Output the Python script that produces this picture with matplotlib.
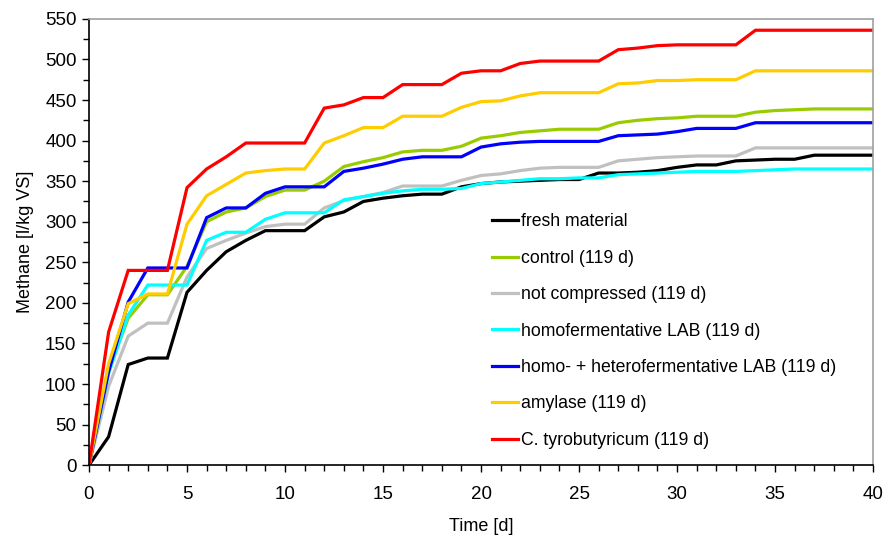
import matplotlib
matplotlib.use('Agg')
from matplotlib import pyplot as plt
from matplotlib.ticker import MultipleLocator
import numpy as np

plt.rcParams['font.family'] = ['Liberation Sans', 'DejaVu Sans']

days = np.arange(0, 41)

fresh = [0, 35, 124, 132, 132, 213, 240, 263, 277, 289, 289, 289, 306, 312, 325, 329,
         332, 334, 334, 343, 347, 349, 350, 351, 352, 352, 360, 360, 361, 363, 367, 370,
         370, 375, 376, 377, 377, 382, 382, 382, 382]
control = [0, 117, 181, 210, 210, 245, 300, 312, 317, 331, 339, 339, 350, 368, 374, 379,
           386, 388, 388, 393, 403, 406, 410, 412, 414, 414, 414, 422, 425, 427, 428, 430,
           430, 430, 435, 437, 438, 439, 439, 439, 439]
not_compr = [0, 97, 159, 175, 175, 232, 267, 277, 286, 294, 297, 297, 317, 326, 331, 336,
             344, 344, 344, 351, 357, 359, 363, 366, 367, 367, 367, 375, 377, 379, 380, 381,
             381, 381, 391, 391, 391, 391, 391, 391, 391]
homo = [0, 113, 185, 222, 222, 222, 277, 287, 287, 303, 311, 311, 311, 327, 331, 335,
        338, 340, 340, 341, 347, 349, 351, 353, 353, 354, 354, 358, 359, 360, 361, 362,
        362, 362, 363, 364, 365, 365, 365, 365, 365]
homo_hetero = [0, 115, 201, 243, 243, 243, 305, 317, 317, 335, 343, 343, 343, 362, 366, 371,
               377, 380, 380, 380, 392, 396, 398, 399, 399, 399, 399, 406, 407, 408, 411, 415,
               415, 415, 422, 422, 422, 422, 422, 422, 422]
amylase = [0, 125, 199, 211, 211, 297, 332, 346, 360, 363, 365, 365, 397, 406, 416, 416,
           430, 430, 430, 441, 448, 449, 455, 459, 459, 459, 459, 470, 471, 474, 474, 475,
           475, 475, 486, 486, 486, 486, 486, 486, 486]
tyro = [0, 164, 240, 240, 240, 342, 365, 380, 397, 397, 397, 397, 440, 444, 453, 453,
        469, 469, 469, 483, 486, 486, 495, 498, 498, 498, 498, 512, 514, 517, 518, 518,
        518, 518, 536, 536, 536, 536, 536, 536, 536]

labels = ['fresh material', 'control (119 d)', 'not compressed (119 d)',
          'homofermentative LAB (119 d)', 'homo- + heterofermentative LAB (119 d)',
          'amylase (119 d)', 'C. tyrobutyricum (119 d)']
series = [fresh, control, not_compr, homo, homo_hetero, amylase, tyro]
colors = ['#000000', '#99cc00', '#c0c0c0', '#00ffff', '#0000ff', '#ffcc00', '#ff0000']

fig = plt.figure(figsize=(8.9, 5.39), dpi=100)
ax = fig.add_axes([0.1, 0.137, 0.881, 0.828])

for vals, lab, c in zip(series, labels, colors):
    ax.plot(days, vals, color=c, lw=2.3, label=lab, solid_joinstyle='miter')

ax.set_xlim(0, 40)
ax.set_ylim(0, 550)
ax.xaxis.set_major_locator(MultipleLocator(5))
ax.xaxis.set_minor_locator(MultipleLocator(1))
ax.yaxis.set_major_locator(MultipleLocator(50))
ax.yaxis.set_minor_locator(MultipleLocator(25))
ax.tick_params(which='major', direction='out', length=5, width=1, labelsize=13.5, pad=4)
ax.tick_params(which='minor', direction='out', length=4, width=1)
ax.tick_params(axis='x', pad=10)

for side in ['top', 'right']:
    ax.spines[side].set_color('#a0a0a0')
    ax.spines[side].set_linewidth(1.2)
for side in ['left', 'bottom']:
    ax.spines[side].set_linewidth(1.2)

ax.set_xlabel('Time [d]', fontsize=13, labelpad=11)
ax.set_ylabel('Methane [l/kg VS]', fontsize=13, labelpad=8)

ax.legend(loc='upper left', bbox_to_anchor=(0.5055, 0.580), frameon=False,
          fontsize=12.7, handlelength=1.45, handletextpad=0.15, labelspacing=1.1,
          borderaxespad=0)

fig.savefig('out.png', dpi=100)
